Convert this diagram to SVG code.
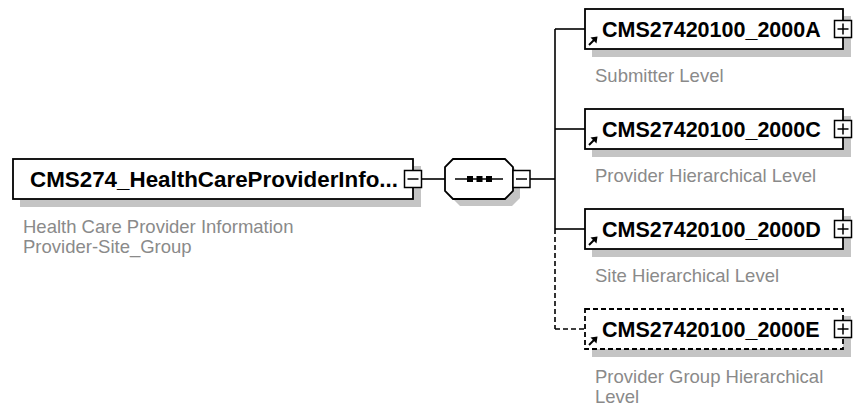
<svg xmlns="http://www.w3.org/2000/svg" width="854" height="406" viewBox="0 0 854 406">
<style>
.box{fill:#fff;stroke:#000;stroke-width:1.8}
.dbox{fill:#fff;stroke:#000;stroke-width:1.8;stroke-dasharray:5,3}
.shadow{fill:#c4c4c4}
.btn{fill:#fff;stroke:#000;stroke-width:1.5}
.sign{stroke:#000;stroke-width:1.5;fill:none}
.conn{stroke:#000;stroke-width:1.6;fill:none}
.dash{stroke:#000;stroke-width:1.6;fill:none;stroke-dasharray:5,3}
.name{font-family:"Liberation Sans",Arial,sans-serif;font-weight:bold;font-size:21.5px;fill:#000}
.desc{font-family:"Liberation Sans",Arial,sans-serif;font-size:18.5px;fill:#8a8a8a}
</style>
<defs>
<g id="link">
<line x1="4" y1="-4" x2="9" y2="-9" stroke="#000" stroke-width="2"/>
<polygon points="12.5,-12.5 5.5,-11.5 11.5,-5.5" fill="#000"/>
</g>
<g id="plus">
<rect class="btn" x="-8.5" y="-8.5" width="17" height="17"/>
<path class="sign" d="M-5.5,0H5.5M0,-5.5V5.5"/>
</g>
<g id="minus">
<rect class="btn" x="-8.5" y="-8.5" width="17" height="17"/>
<path class="sign" d="M-5.5,0H5.5"/>
</g>
</defs>

<g id="connectors">
<line class="conn" x1="421.5" y1="179" x2="445" y2="179"/>
<line class="conn" x1="530" y1="179" x2="555" y2="179"/>
<line class="conn" x1="555" y1="29" x2="555" y2="229"/>
<line class="dash" x1="555" y1="229" x2="555" y2="329"/>
<line class="conn" x1="555" y1="29" x2="585" y2="29"/>
<line class="conn" x1="555" y1="129" x2="585" y2="129"/>
<line class="conn" x1="555" y1="229" x2="585" y2="229"/>
<line class="dash" x1="555" y1="329" x2="585" y2="329"/>
</g>

<g id="main">
<rect class="shadow" x="20" y="166" width="401" height="41"/>
<rect class="box" x="13" y="159" width="400" height="40"/>
<text class="name" x="30" y="187" textLength="368" lengthAdjust="spacingAndGlyphs">CMS274_HealthCareProviderInfo...</text>
<use href="#minus" x="413" y="179"/>
<text class="desc" x="23" y="233">Health Care Provider Information</text>
<text class="desc" x="23" y="253">Provider-Site_Group</text>
</g>

<g id="sequence">
<polygon class="shadow" points="460,166 512,166 520,174 520,198 512,206 460,206 452,198 452,174"/>
<polygon class="box" points="453,159 505,159 513,167 513,191 505,199 453,199 445,191 445,167"/>
<line class="conn" x1="455" y1="179" x2="503" y2="179"/>
<rect x="467" y="176" width="6" height="6" fill="#000"/>
<rect x="476.5" y="176" width="6" height="6" fill="#000"/>
<rect x="486" y="176" width="6" height="6" fill="#000"/>
<use href="#minus" x="521.5" y="179"/>
</g>

<g id="child-2000A">
<rect class="shadow" x="592" y="16" width="259" height="41"/>
<rect class="box" x="585" y="9" width="258" height="40"/>
<use href="#link" x="585" y="49"/>
<text class="name" x="602" y="37">CMS27420100_2000A</text>
<use href="#plus" x="843" y="29"/>
<text class="desc" x="595" y="82">Submitter Level</text>
</g>

<g id="child-2000C">
<rect class="shadow" x="592" y="116" width="259" height="41"/>
<rect class="box" x="585" y="109" width="258" height="40"/>
<use href="#link" x="585" y="149"/>
<text class="name" x="602" y="137">CMS27420100_2000C</text>
<use href="#plus" x="843" y="129"/>
<text class="desc" x="595" y="182">Provider Hierarchical Level</text>
</g>

<g id="child-2000D">
<rect class="shadow" x="592" y="216" width="259" height="41"/>
<rect class="box" x="585" y="209" width="258" height="40"/>
<use href="#link" x="585" y="249"/>
<text class="name" x="602" y="237">CMS27420100_2000D</text>
<use href="#plus" x="843" y="229"/>
<text class="desc" x="595" y="282">Site Hierarchical Level</text>
</g>

<g id="child-2000E">
<rect class="shadow" x="592" y="316" width="259" height="41"/>
<rect class="dbox" x="585" y="309" width="258" height="40"/>
<use href="#link" x="585" y="349"/>
<text class="name" x="602" y="337">CMS27420100_2000E</text>
<use href="#plus" x="843" y="329"/>
<text class="desc" x="595" y="383">Provider Group Hierarchical</text>
<text class="desc" x="595" y="403">Level</text>
</g>
</svg>
